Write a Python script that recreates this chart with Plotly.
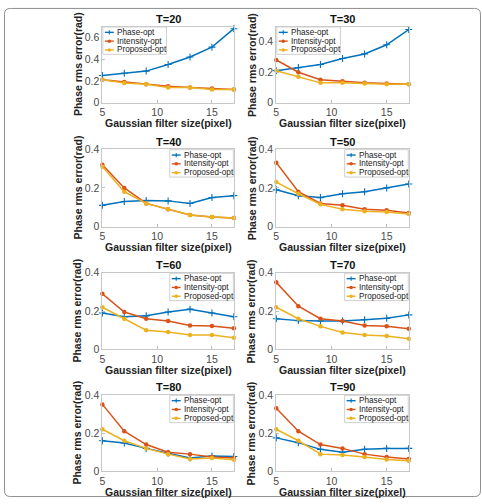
import plotly.graph_objects as go

# ---------------- data ----------------
filter_size = [5, 7, 9, 11, 13, 15, 17]
panel_titles = ["T=20", "T=30", "T=40", "T=50", "T=60", "T=70", "T=80", "T=90"]
series_names = ["Phase-opt", "Intensity-opt", "Proposed-opt"]
y_max = [0.7, 0.5, 0.4, 0.4, 0.4, 0.4, 0.4, 0.4]
x_ticks = [5, 10, 15]
y_ticks_t20 = [0, 0.2, 0.4, 0.6]
y_ticks_other = [0, 0.2, 0.4]

phase_t20 = [0.25, 0.27, 0.29, 0.35, 0.42, 0.51, 0.68]
intensity_t20 = [0.21, 0.19, 0.17, 0.15, 0.14, 0.13, 0.12]
proposed_t20 = [0.21, 0.18, 0.17, 0.14, 0.14, 0.12, 0.12]

phase_t30 = [0.21, 0.23, 0.25, 0.29, 0.32, 0.38, 0.48]
intensity_t30 = [0.28, 0.20, 0.15, 0.14, 0.13, 0.125, 0.12]
proposed_t30 = [0.21, 0.17, 0.13, 0.13, 0.125, 0.12, 0.12]

phase_t40 = [0.11, 0.13, 0.135, 0.133, 0.12, 0.15, 0.16]
intensity_t40 = [0.32, 0.20, 0.12, 0.09, 0.06, 0.05, 0.045]
proposed_t40 = [0.31, 0.18, 0.12, 0.09, 0.06, 0.05, 0.045]

phase_t50 = [0.19, 0.16, 0.15, 0.17, 0.18, 0.20, 0.22]
intensity_t50 = [0.33, 0.18, 0.12, 0.11, 0.09, 0.085, 0.07]
proposed_t50 = [0.23, 0.17, 0.115, 0.09, 0.08, 0.075, 0.065]

phase_t60 = [0.19, 0.17, 0.175, 0.195, 0.21, 0.19, 0.17]
intensity_t60 = [0.29, 0.195, 0.16, 0.148, 0.125, 0.122, 0.11]
proposed_t60 = [0.22, 0.16, 0.10, 0.09, 0.075, 0.075, 0.06]

phase_t70 = [0.16, 0.15, 0.148, 0.148, 0.155, 0.162, 0.18]
intensity_t70 = [0.35, 0.225, 0.16, 0.148, 0.125, 0.12, 0.108]
proposed_t70 = [0.22, 0.16, 0.12, 0.088, 0.075, 0.07, 0.055]

phase_t80 = [0.16, 0.148, 0.12, 0.095, 0.07, 0.08, 0.078]
intensity_t80 = [0.35, 0.21, 0.14, 0.10, 0.09, 0.075, 0.07]
proposed_t80 = [0.22, 0.16, 0.12, 0.09, 0.065, 0.07, 0.06]

phase_t90 = [0.175, 0.15, 0.115, 0.10, 0.115, 0.12, 0.12]
intensity_t90 = [0.33, 0.21, 0.14, 0.12, 0.09, 0.075, 0.065]
proposed_t90 = [0.22, 0.16, 0.09, 0.085, 0.075, 0.062, 0.055]

panel_series = [
    (phase_t20, intensity_t20, proposed_t20),
    (phase_t30, intensity_t30, proposed_t30),
    (phase_t40, intensity_t40, proposed_t40),
    (phase_t50, intensity_t50, proposed_t50),
    (phase_t60, intensity_t60, proposed_t60),
    (phase_t70, intensity_t70, proposed_t70),
    (phase_t80, intensity_t80, proposed_t80),
    (phase_t90, intensity_t90, proposed_t90),
]

# ---------------- styles / layout ----------------
W, H = 482, 504
colors = ["#0072BD", "#D95319", "#EDB120"]
FONT = "Liberation Sans, Arial, sans-serif"
col_px = [(100, 232.3), (275, 408.3)]
row_px = [(21, 99), (146.7, 226), (273.3, 351.7), (398.3, 476.7)]


def pxx(px):
    return px / W


def pxy(py):
    return 1 - py / H


fig = go.Figure()
shapes = []
annotations = []
layout_axes = {}

for i, (title, series) in enumerate(zip(panel_titles, panel_series)):
    r, c = divmod(i, 2)
    n = i + 1
    xa = "x" if n == 1 else f"x{n}"
    ya = "y" if n == 1 else f"y{n}"
    xl, xr = col_px[c]
    yt, yb = row_px[r]

    for k, (name, vals) in enumerate(zip(series_names, series)):
        if k == 0:
            marker = dict(symbol="cross-thin", size=5, color=colors[k],
                          line=dict(width=1.1, color=colors[k]))
        else:
            marker = dict(symbol="circle", size=4.5, color=colors[k])
        fig.add_trace(go.Scatter(
            x=filter_size, y=vals, mode="lines+markers", name=name,
            line=dict(color=colors[k], width=1.5), marker=marker,
            xaxis=xa, yaxis=ya, showlegend=False, cliponaxis=False))

    xkey = "xaxis" if n == 1 else f"xaxis{n}"
    ykey = "yaxis" if n == 1 else f"yaxis{n}"
    layout_axes[xkey] = dict(
        domain=[pxx(xl), pxx(xr)], anchor=ya, range=[5, 17],
        tickvals=x_ticks, ticks="inside", ticklen=3, tickcolor="#bdbdbd",
        showline=True, linecolor="#c8c8c8", linewidth=1, mirror=True,
        showgrid=False, zeroline=False,
        tickfont=dict(family=FONT, size=10.5, color="#4a4a4a"))
    layout_axes[ykey] = dict(
        domain=[pxy(yb), pxy(yt)], anchor=xa, range=[0, y_max[i]],
        tickvals=y_ticks_t20 if i == 0 else y_ticks_other,
        ticks="inside", ticklen=3, tickcolor="#bdbdbd",
        showline=True, linecolor="#c8c8c8", linewidth=1, mirror=True,
        showgrid=False, zeroline=False,
        tickfont=dict(family=FONT, size=10.5, color="#4a4a4a"))

    cx = (xl + xr) / 2
    cy = (yt + yb) / 2
    # title
    annotations.append(dict(text=f"<b>{title}</b>", x=pxx(cx), y=pxy(yt - 7.5),
                            xref="paper", yref="paper", showarrow=False,
                            xanchor="center", yanchor="middle",
                            font=dict(family=FONT, size=11, color="#111")))
    # x label
    annotations.append(dict(text="<b>Gaussian filter size(pixel)</b>", x=pxx(cx),
                            y=pxy(yb + 21), xref="paper", yref="paper",
                            showarrow=False, xanchor="center", yanchor="middle",
                            font=dict(family=FONT, size=10.5, color="#222")))
    # y label
    annotations.append(dict(text="<b>Phase rms error(rad)</b>", x=pxx(xl - 25),
                            y=pxy(cy), xref="paper", yref="paper",
                            showarrow=False, textangle=-90,
                            xanchor="center", yanchor="middle",
                            font=dict(family=FONT, size=10.5, color="#222")))

    # legend box
    lw, lh = 64, 28
    if r == 0:
        bx0 = xl + 0.5
    else:
        bx0 = xr - lw - 0.5
    by0 = yt + 0.5
    shapes.append(dict(type="rect", xref="paper", yref="paper",
                       x0=pxx(bx0), x1=pxx(bx0 + lw), y0=pxy(by0 + lh), y1=pxy(by0),
                       fillcolor="white", line=dict(color="#cfcfcf", width=1),
                       layer="above"))
    for k, name in enumerate(series_names):
        iy = by0 + 5.5 + 9 * k
        sx0, sx1 = bx0 + 2, bx0 + 11
        shapes.append(dict(type="line", xref="paper", yref="paper",
                           x0=pxx(sx0), x1=pxx(sx1), y0=pxy(iy), y1=pxy(iy),
                           line=dict(color=colors[k], width=1.4), layer="above"))
        mx = (sx0 + sx1) / 2
        if k == 0:
            shapes.append(dict(type="line", xref="paper", yref="paper",
                               x0=pxx(mx), x1=pxx(mx), y0=pxy(iy - 2.2), y1=pxy(iy + 2.2),
                               line=dict(color=colors[k], width=1.1), layer="above"))
        else:
            shapes.append(dict(type="circle", xref="paper", yref="paper",
                               x0=pxx(mx - 1.8), x1=pxx(mx + 1.8),
                               y0=pxy(iy + 1.8), y1=pxy(iy - 1.8),
                               fillcolor=colors[k], line=dict(width=0), layer="above"))
        annotations.append(dict(text=name, x=pxx(sx1 + 1), y=pxy(iy),
                                xref="paper", yref="paper", showarrow=False,
                                xanchor="left", yanchor="middle",
                                font=dict(family=FONT, size=8.2, color="#222")))

# outer rounded frame
x0, x1 = pxx(1.5), pxx(480.5)
y0, y1 = pxy(502.5), pxy(2.5)
rx, ry = 6 / W, 6 / H
path = (f"M {x0+rx},{y1} L {x1-rx},{y1} Q {x1},{y1} {x1},{y1-ry} "
        f"L {x1},{y0+ry} Q {x1},{y0} {x1-rx},{y0} L {x0+rx},{y0} "
        f"Q {x0},{y0} {x0},{y0+ry} L {x0},{y1-ry} Q {x0},{y1} {x0+rx},{y1} Z")
shapes.append(dict(type="path", xref="paper", yref="paper", path=path,
                   line=dict(color="#8f8f8f", width=1)))

fig.update_layout(
    width=W, height=H, autosize=False,
    margin=dict(l=0, r=0, t=0, b=0, pad=0),
    paper_bgcolor="white", plot_bgcolor="white",
    showlegend=False, shapes=shapes, annotations=annotations,
    **layout_axes)

fig.write_html("out.html")
